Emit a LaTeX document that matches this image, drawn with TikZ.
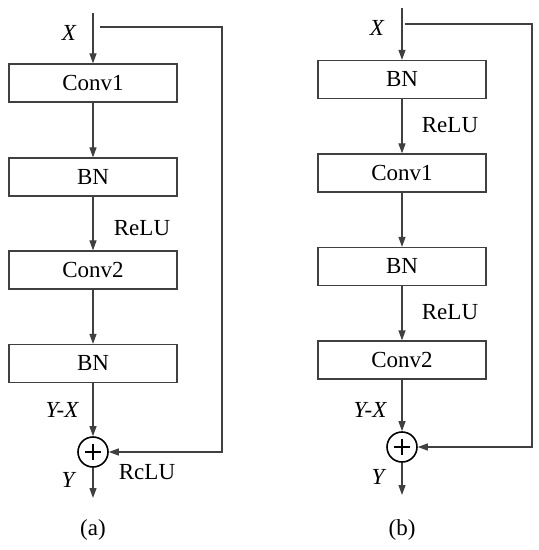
\documentclass[tikz,border=0pt]{standalone}
\usepackage{fontspec}
\setmainfont{Liberation Serif}
\usetikzlibrary{arrows.meta}

\begin{document}
\begin{tikzpicture}[x=0.5pt,y=-0.5pt,font=\fontsize{11.5}{13}\selectfont,
  line width=.6pt,draw=black!80,
  block/.style={draw=black!75,minimum width=84pt,minimum height=19pt,inner sep=0},
  sum/.style={circle,draw=black,line width=.8pt,minimum size=15pt,inner sep=0,
    path picture={\draw[line width=.9pt] (path picture bounding box.center)
      +(-4pt,0) -- +(4pt,0) +(0,-4pt) -- +(0,4pt);}},
  edge/.style={draw=black!75,-{Triangle[length=5pt,width=3.5pt]}},
  lab/.style={font=\fontsize{11.5}{13}\selectfont\itshape}]
  \useasboundingbox (0,0) rectangle (539,550);

  % (a) original residual block
  \foreach \name/\y/\txt in {a1/83/Conv1,a2/177/BN,a3/270/Conv2,a4/363.5/BN}
    \node[block] (\name) at (93,\y) {\txt};
  \node[sum] (sa) at (93,452) {};
  \coordinate (ain) at (93,13);
  \coordinate (aout) at (93,498);
  \coordinate (askip) at (100,27);
  \draw[edge] (ain) -- (a1);
  \foreach \a/\b in {a1/a2,a2/a3,a3/a4}
    \draw[edge] (\a) -- (\b);
  \draw[edge] (a4) -- (sa);
  \draw[edge] (sa) -- (aout);
  \draw[edge] (askip) -- (222,27) |- (sa.east);
  \node[lab] (ax) at (69,33) {X};
  \node[lab] (ayx) at (62,410) {Y-X};
  \node[lab] (ay) at (68,480) {Y};
  \node (arelu) at (142,228) {ReLU};
  \node (arclu) at (147,472) {RcLU};
  \node (acap) at (93,530) {(a)};

  % (b) pre-activation block
  \foreach \name/\y/\txt in {b1/79.5/BN,b2/173/Conv1,b3/266.5/BN,b4/360/Conv2}
    \node[block] (\name) at (402,\y) {\txt};
  \node[sum] (sb) at (402,447) {};
  \coordinate (bin) at (402,8);
  \coordinate (bout) at (402,495);
  \coordinate (bskip) at (405,24);
  \draw[edge] (bin) -- (b1);
  \foreach \a/\b in {b1/b2,b2/b3,b3/b4}
    \draw[edge] (\a) -- (\b);
  \draw[edge] (b4) -- (sb);
  \draw[edge] (sb) -- (bout);
  \draw[edge] (bskip) -- (532,24) |- (sb.east);
  \node[lab] (bx) at (377,28) {X};
  \node[lab] (byx) at (370,410) {Y-X};
  \node[lab] (by) at (378,477) {Y};
  \node (brelu1) at (450,125) {ReLU};
  \node (brelu2) at (450,312) {ReLU};
  \node (bcap) at (402,530) {(b)};
\end{tikzpicture}
\end{document}
